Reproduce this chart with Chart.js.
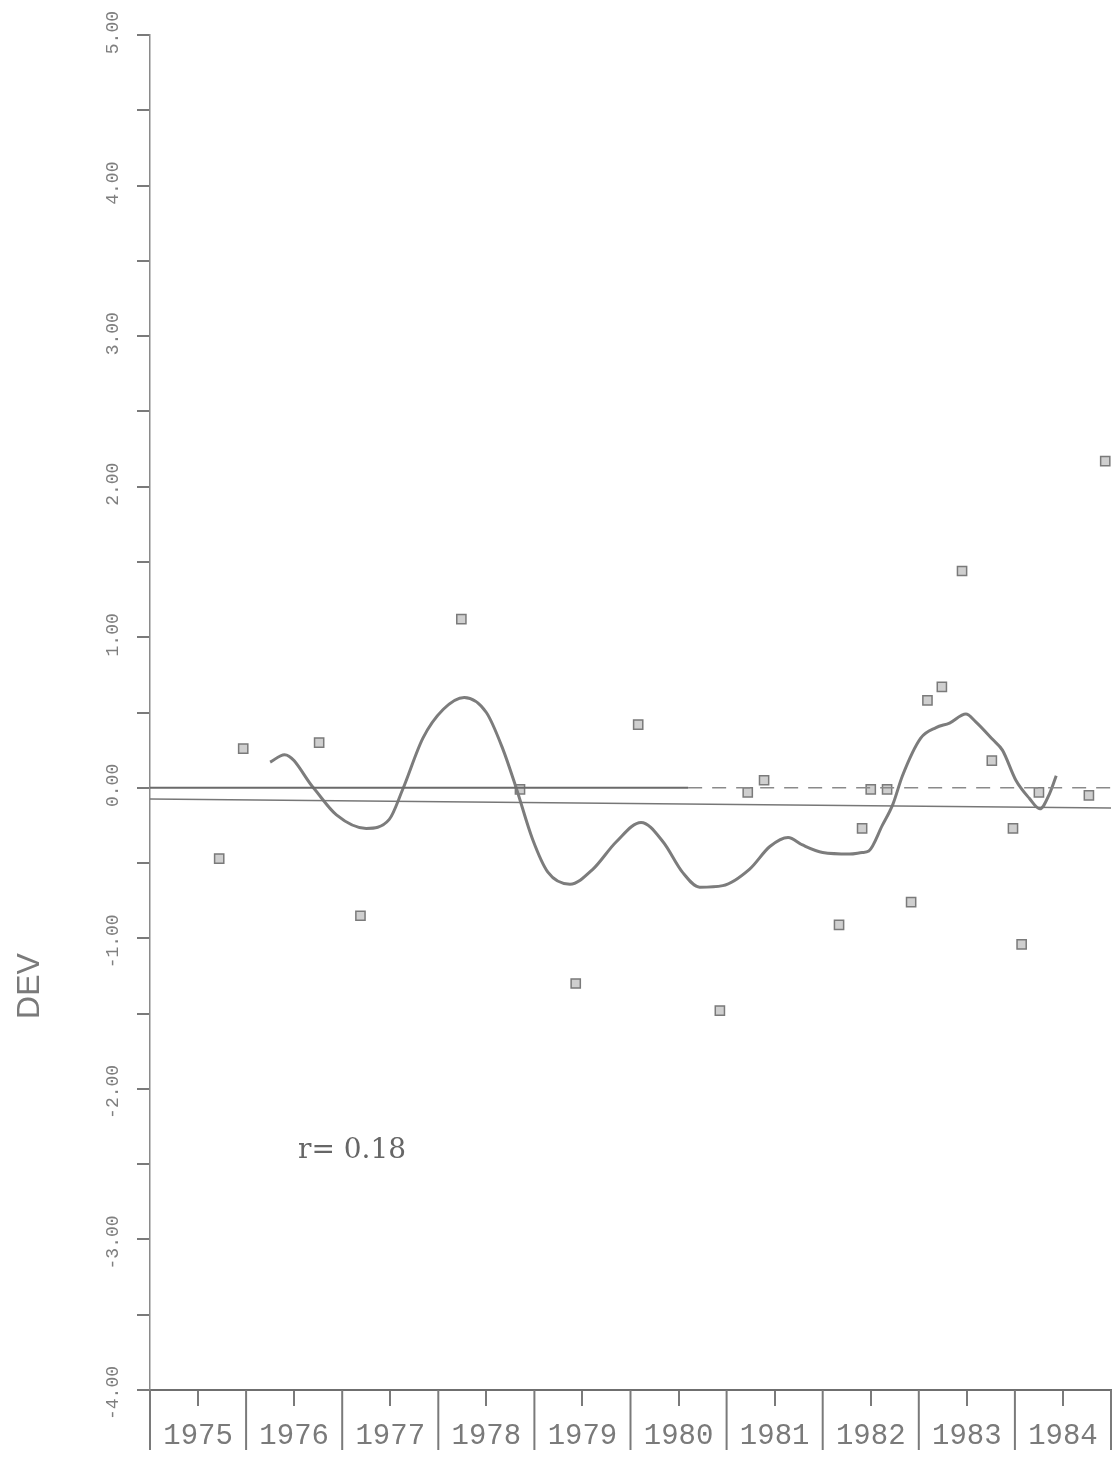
<!DOCTYPE html>
<html>
<head>
<meta charset="utf-8">
<script src="https://cdn.jsdelivr.net/npm/chart.js@4.4.0/dist/chart.umd.min.js"></script>
<style>
  html, body { margin: 0; padding: 0; background: #fff; }
</style>
</head>
<body>
<canvas id="chart" width="1119" height="1463"></canvas>
<script>
/* ===== Data ===== */
const yearLabels = ['1975', '1976', '1977', '1978', '1979', '1980', '1981', '1982', '1983', '1984'];

// scatter points (decimal year, deviation)
const pointYears = [1975.72, 1975.97, 1976.76, 1977.19, 1978.24, 1978.85, 1979.43, 1980.08, 1980.93,
  1981.22, 1981.39, 1982.17, 1982.41, 1982.50, 1982.67, 1982.92, 1983.09, 1983.24, 1983.45,
  1983.76, 1983.98, 1984.07, 1984.25, 1984.77, 1984.94];
const pointDev = [-0.47, 0.26, 0.30, -0.85, 1.12, -0.01, -1.30, 0.42, -1.48,
  -0.03, 0.05, -0.91, -0.27, -0.01, -0.01, -0.76, 0.58, 0.67, 1.44,
  0.18, -0.27, -1.04, -0.03, -0.05, 2.17];

// smoothed curve
const curveYears = [1976.25, 1976.40, 1976.70, 1976.94, 1977.25, 1977.49, 1977.63, 1977.84, 1978.05,
  1978.27, 1978.50, 1978.67, 1978.81, 1978.98, 1979.14, 1979.37, 1979.61, 1979.85, 1980.11,
  1980.34, 1980.54, 1980.72, 1980.96, 1981.24, 1981.45, 1981.64, 1981.79, 1982.00, 1982.28,
  1982.41, 1982.48, 1982.62, 1982.73, 1982.83, 1983.02, 1983.18, 1983.32, 1983.49, 1983.59,
  1983.77, 1983.87, 1984.01, 1984.15, 1984.26, 1984.36, 1984.43];
const curveDev = [0.17, 0.22, 0.00, -0.18, -0.27, -0.21, -0.01, 0.33, 0.52,
  0.60, 0.50, 0.26, 0.00, -0.34, -0.56, -0.64, -0.54, -0.36, -0.23,
  -0.36, -0.56, -0.66, -0.65, -0.54, -0.39, -0.33, -0.38, -0.43, -0.44,
  -0.43, -0.42, -0.25, -0.11, 0.08, 0.33, 0.40, 0.43, 0.49, 0.44,
  0.32, 0.25, 0.05, -0.07, -0.14, -0.04, 0.08];

// regression line and zero line
const trendYears = [1975, 1985];
const trendDev = [-0.075, -0.135];
const zeroSolidYears = [1975, 1980.6];
const zeroDashYears = [1980.6, 1985];

const yLabelValues = [5, 4, 3, 2, 1, 0, -1, -2, -3, -4];
const yLabelText = ['5.00', '4.00', '3.00', '2.00', '1.00', '0.00', '-1.00', '-2.00', '-3.00', '-4.00'];
const rText = 'r= 0.18';
const yTitle = 'DEV';

const toXY = (xs, ys) => xs.map((x, i) => ({ x, y: ys[i] }));
const ink = '#7a7a7a';

/* ===== Extra drawing: year boxes, y labels, texts ===== */
const decor = {
  id: 'decor',
  afterDraw(chart) {
    const { ctx, chartArea, scales: { x, y } } = chart;
    ctx.save();

    // vertical separators of the year boxes
    ctx.strokeStyle = ink;
    ctx.lineWidth = 2;
    for (let yr = 1975; yr <= 1985; yr++) {
      const px = x.getPixelForValue(yr);
      ctx.beginPath();
      ctx.moveTo(px, chartArea.bottom);
      ctx.lineTo(px, chartArea.bottom + 60);
      ctx.stroke();
    }

    // rotated y labels
    ctx.fillStyle = '#7f7f7f';
    ctx.font = '18px "Liberation Mono"';
    yLabelValues.forEach((v, i) => {
      const py = y.getPixelForValue(v);
      ctx.save();
      ctx.translate(113, py - 24);
      ctx.rotate(-Math.PI / 2);
      ctx.textAlign = 'right';
      ctx.textBaseline = 'middle';
      ctx.fillText(yLabelText[i], 0, 0);
      ctx.restore();
    });

    // axis title
    ctx.save();
    ctx.translate(30, 986);
    ctx.rotate(-Math.PI / 2);
    ctx.fillStyle = ink;
    ctx.font = '32px "Liberation Sans"';
    ctx.textAlign = 'center';
    ctx.textBaseline = 'middle';
    ctx.fillText(yTitle, 0, 0);
    ctx.restore();

    // correlation note
    ctx.fillStyle = '#666';
    ctx.font = '28px "DejaVu Serif"';
    ctx.textAlign = 'left';
    ctx.textBaseline = 'alphabetic';
    ctx.fillText(rText, 298, 1158);

    ctx.restore();
  }
};

/* ===== Chart ===== */
new Chart(document.getElementById('chart'), {
  type: 'scatter',
  data: {
    datasets: [
      {
        data: toXY(zeroSolidYears, [0, 0]),
        showLine: true, borderColor: '#6a6a6a', borderWidth: 2, pointRadius: 0
      },
      {
        data: toXY(zeroDashYears, [0, 0]),
        showLine: true, borderColor: '#8a8a8a', borderWidth: 1.5, borderDash: [14, 10], pointRadius: 0
      },
      {
        data: toXY(trendYears, trendDev),
        showLine: true, borderColor: '#777', borderWidth: 1.5, pointRadius: 0
      },
      {
        data: toXY(curveYears, curveDev),
        showLine: true, borderColor: '#7c7c7c', borderWidth: 3,
        cubicInterpolationMode: 'monotone', pointRadius: 0
      },
      {
        data: toXY(pointYears, pointDev),
        pointStyle: 'rect', pointRadius: 6.5,
        borderColor: '#7a7a7a', borderWidth: 1.5, backgroundColor: 'rgba(175,175,175,0.6)'
      }
    ]
  },
  options: {
    responsive: false,
    animation: false,
    devicePixelRatio: 1,
    layout: { padding: { top: 35, right: 7, left: 0, bottom: 0 } },
    plugins: { legend: { display: false }, tooltip: { enabled: false } },
    scales: {
      x: {
        type: 'linear', min: 1975, max: 1985,
        afterBuildTicks: s => { s.ticks = yearLabels.map((_, i) => ({ value: 1975.5 + i })); },
        afterFit: s => { s.height = 73; },
        ticks: {
          autoSkip: false, maxRotation: 0, padding: 13, color: ink,
          font: { family: 'Liberation Mono', size: 29 },
          callback: (v, i) => yearLabels[i]
        },
        grid: { drawOnChartArea: false, drawTicks: true, tickLength: 16, color: ink, lineWidth: 2 },
        border: { display: true, color: '#6f6f6f', width: 2 }
      },
      y: {
        type: 'linear', min: -4, max: 5,
        afterBuildTicks: s => {
          const t = [];
          for (let v = -4; v <= 5; v += 0.5) t.push({ value: v });
          s.ticks = t;
        },
        afterFit: s => { s.width = 150; },
        ticks: { display: false },
        grid: { drawOnChartArea: false, drawTicks: true, tickLength: 13, color: ink, lineWidth: 2 },
        border: { display: true, color: '#8a8a8a', width: 1.5 }
      }
    }
  },
  plugins: [decor]
});
</script>
</body>
</html>
